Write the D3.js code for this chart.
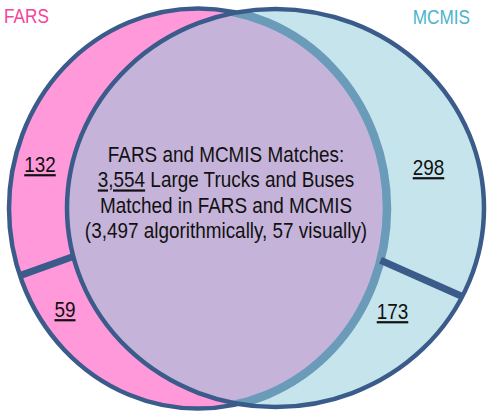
<!DOCTYPE html>
<html>
<head>
<meta charset="utf-8">
<script src="https://cdn.jsdelivr.net/npm/d3@7"></script>
<style>
  body { margin: 0; background: #fff; }
  svg text { font-family: "Liberation Sans", Arial, sans-serif; text-decoration-skip-ink: none; }
</style>
</head>
<body>
<div class="content"></div>
<script>
// data
var setNames = ["FARS", "MCMIS"];
var farsOnly = [132, 59];      // upper, lower part of FARS-only crescent
var mcmisOnly = [298, 173];    // upper, lower part of MCMIS-only crescent
var matchedTotal = 3554;
var matchedAlgo = 3497;
var matchedVisual = 57;

var params = {
    "parentDiv": "div.content",
    "fullWidth": 487,
    "fullHeight": 412,
    "fars": {cx: 198, cy: 208.5, rx: 189, ry: 200},
    "mcmis": {cx: 275.5, cy: 208, rx: 208.5, ry: 199},
    "fontSize": 22,
    "squeeze": 0.86,
    "colors": {pink: "#FF99DA", blue: "#C6E4EC", lens: "#C5B3DA",
               stroke: "#3B5C8A", inner: "#6A9BB9", bar: "#834E92",
               farsLabel: "#F5449C", mcmisLabel: "#4BB4CC"}
};

var fmt = d3.format(",");
var c = params.colors;
var svg = d3.select(params.parentDiv).append("svg")
    .attr("width", params.fullWidth)
    .attr("height", params.fullHeight);

function ellipse(sel, e) {
    return sel.append("ellipse")
        .attr("cx", e.cx).attr("cy", e.cy)
        .attr("rx", e.rx).attr("ry", e.ry);
}
function pt(e, deg) {
    var t = deg * Math.PI / 180;
    return [e.cx + e.rx * Math.cos(t), e.cy + e.ry * Math.sin(t)];
}
//condensed text placed at x,y
function label(x, y, size) {
    return svg.append("text")
        .attr("transform", "translate(" + x + "," + y + ") scale(" + params.squeeze + ",1)")
        .style("font-size", (size || params.fontSize) + "px");
}

var defs = svg.append("defs");
ellipse(defs.append("clipPath").attr("id", "clipM"), params.mcmis);

//FARS circle
ellipse(svg, params.fars).style("fill", c.pink).style("stroke", c.stroke).style("stroke-width", 4.5);
//MCMIS fill
ellipse(svg, params.mcmis).style("fill", c.blue);
//overlap
ellipse(svg.append("g").attr("clip-path", "url(#clipM)"), params.fars)
    .style("fill", c.lens).style("stroke", c.inner).style("stroke-width", 8.5);
//MCMIS outline
ellipse(svg, params.mcmis).style("fill", "none").style("stroke", c.stroke).style("stroke-width", 4.5);

//dividers
var bars = [
    [pt(params.fars, 160.4), pt(params.mcmis, 165.9)],
    [pt(params.mcmis, 26.4), pt(params.fars, 15.0)]
];
var line = d3.line();
svg.selectAll(".bar").data(bars).enter().append("path")
    .attr("class", "bar")
    .attr("d", line)
    .style("stroke", c.stroke).style("stroke-width", 7);
svg.selectAll(".barInner").data(bars).enter().append("path")
    .attr("class", "barInner")
    .attr("d", function(d){
        var a = d3.interpolate(d[0], d[1]);
        return line([a(0.05), a(0.95)]);
    })
    .style("stroke", c.bar).style("stroke-width", 2.5);

//set labels
label(4, 23, 20).style("fill", c.farsLabel).text(setNames[0]);
label(470, 24, 20).style("text-anchor", "end").style("fill", c.mcmisLabel).text(setNames[1]);

//region counts
var counts = [
    {v: farsOnly[0], x: 40, y: 172},
    {v: farsOnly[1], x: 65, y: 317},
    {v: mcmisOnly[0], x: 428.5, y: 175},
    {v: mcmisOnly[1], x: 392.5, y: 319}
];
counts.forEach(function(d){
    label(d.x, d.y).style("text-anchor", "middle")
        .style("text-decoration", "underline")
        .style("fill", "#111")
        .text(fmt(d.v));
});

//center text
var center = label(226, 162).style("text-anchor", "middle").style("fill", "#111");
center.append("tspan").attr("x", 0).text(setNames[0] + " and " + setNames[1] + " Matches:");
var l2 = center.append("tspan").attr("x", 0).attr("dy", 25.3);
l2.append("tspan").style("text-decoration", "underline").text(fmt(matchedTotal));
l2.append("tspan").text(" Large Trucks and Buses");
center.append("tspan").attr("x", 0).attr("dy", 25.3)
    .text("Matched in " + setNames[0] + " and " + setNames[1]);
center.append("tspan").attr("x", 0).attr("dy", 25.3)
    .text("(" + fmt(matchedAlgo) + " algorithmically, " + matchedVisual + " visually)");
</script>
</body>
</html>
